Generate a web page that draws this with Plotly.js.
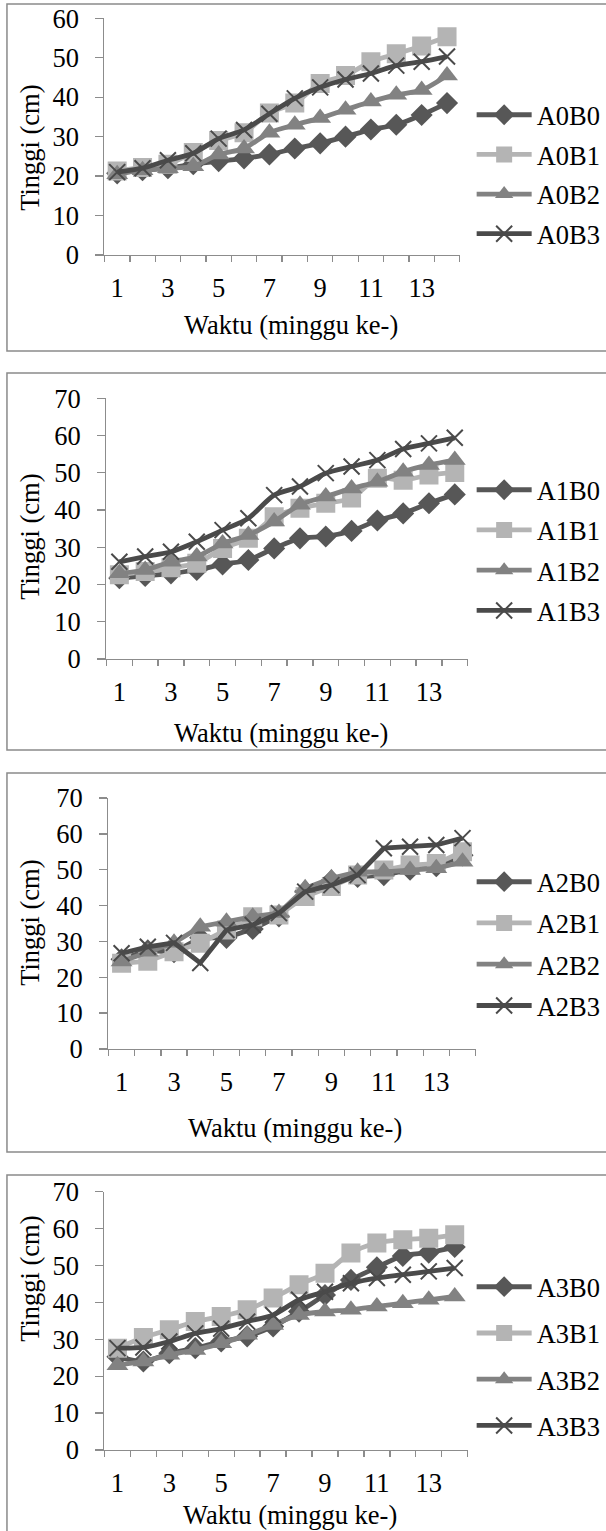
<!DOCTYPE html>
<html>
<head>
<meta charset="utf-8">
<script src="https://cdn.plot.ly/plotly-3.0.1.min.js"></script>
<style>
html,body{margin:0;padding:0;background:#fff;}
#chart{width:606px;height:1531px;}
</style>
</head>
<body>
<div id="chart"></div>
<script>
// ---- data ----
const weeks = [1, 2, 3, 4, 5, 6, 7, 8, 9, 10, 11, 12, 13, 14];
const weekTickVals = [1, 3, 5, 7, 9, 11, 13];
const weekTickText = ["1", "3", "5", "7", "9", "11", "13"];
const yTitle = "Tinggi (cm)";
const xTitle = "Waktu (minggu ke-)";

const A0B0 = [20.7, 21.5, 22, 23, 23.8, 24.5, 25.5, 27, 28.3, 30, 31.8, 33, 35.5, 38.5];
const A0B1 = [21.3, 22.2, 23, 26, 29, 31, 36, 38.5, 43.5, 45.5, 49, 51, 53, 55.3];
const A0B2 = [20.5, 21.5, 22, 22.5, 25.5, 27, 31, 33, 34.7, 36.8, 38.9, 40.6, 41.8, 45.5];
const A0B3 = [21, 22, 24, 25.8, 29.5, 31.7, 35.8, 39.7, 42.5, 44.5, 46, 48, 49, 50.3];

const A1B0 = [21.7, 22.3, 23, 23.9, 25.4, 26.6, 29.7, 32.4, 32.9, 34.4, 37.2, 39.1, 41.8, 44.2];
const A1B1 = [22.6, 23.5, 24.5, 25.7, 29.7, 32.4, 38.2, 40.5, 41.8, 43.2, 48.5, 48, 49.4, 50.1];
const A1B2 = [23, 23.9, 26.1, 27.5, 31, 33.3, 36.9, 41.4, 43.6, 45.8, 47.6, 50.3, 52.1, 53.4];
const A1B3 = [26.1, 27.5, 28.8, 31.5, 34.6, 37.8, 44, 46.3, 49.9, 51.7, 53.4, 56.4, 57.9, 59.4];

const A2B0 = [25, 27.5, 27, 31, 31, 33.5, 37, 44, 47, 48, 48.5, 50, 51, 54];
const A2B1 = [23.9, 24.5, 27.1, 29.5, 33.2, 36.9, 37.4, 42.5, 45.3, 48.5, 49.9, 51.3, 51.7, 55];
const A2B2 = [24.4, 27.1, 29.6, 34.1, 35.5, 36.9, 37.9, 44.8, 47.6, 49.4, 49.4, 49.9, 50.4, 52.2];
const A2B3 = [26.7, 28.5, 29.6, 24, 33.2, 34.6, 37.9, 43.9, 45.7, 48.5, 56, 56.4, 56.9, 58.8];

const A3B0 = [25.3, 24, 26.2, 27.6, 29.4, 30.8, 33.5, 37.5, 42, 46.1, 49.5, 52.6, 53.5, 55];
const A3B1 = [27.6, 30.5, 32.6, 34.8, 36.2, 38, 41.2, 44.8, 47.9, 53.4, 56.1, 57, 57.4, 58.3];
const A3B2 = [23, 24, 25.8, 27.1, 28.9, 31.2, 33.9, 36.6, 37.5, 38, 38.9, 39.8, 40.7, 41.6];
const A3B3 = [27.6, 27.8, 29.4, 31.6, 32.9, 34.8, 36.6, 40.7, 42.9, 45.2, 46.6, 47.5, 48.4, 49.3];

const panelNames = [
  ["A0B0", "A0B1", "A0B2", "A0B3"],
  ["A1B0", "A1B1", "A1B2", "A1B3"],
  ["A2B0", "A2B1", "A2B2", "A2B3"],
  ["A3B0", "A3B1", "A3B2", "A3B3"]
];
const panelValues = [
  [A0B0, A0B1, A0B2, A0B3],
  [A1B0, A1B1, A1B2, A1B3],
  [A2B0, A2B1, A2B2, A2B3],
  [A3B0, A3B1, A3B2, A3B3]
];
const yMax = [60, 70, 70, 70];

// ---- layout geometry (pixels) ----
const W = 606, H = 1531;
const fx = p => p / W;
const fy = p => 1 - p / H;

const panels = [
  {x0: 105, x1: 462, yTop: 18.3, yBot: 255, frame: [7, 4, 351], titleX: 292, titleY: 325, ytX: 30, ytY: 148, legTop: 113, gap: 40.7, shape: "spline"},
  {x0: 107, x1: 470, yTop: 398.3, yBot: 659, frame: [7, 373, 750], titleX: 282, titleY: 733, ytX: 30, ytY: 537, legTop: 488, gap: 41.3, shape: "spline"},
  {x0: 109, x1: 478, yTop: 798, yBot: 1049, frame: [7, 773, 1152], titleX: 296, titleY: 1128, ytX: 30, ytY: 923, legTop: 880, gap: 42.3, shape: "linear"},
  {x0: 105, x1: 470, yTop: 1191.7, yBot: 1450, frame: [7, 1175, 1560], titleX: 291, titleY: 1515, ytX: 30, ytY: 1279, legTop: 1285, gap: 47.3, shape: "spline"}
];

const styles = [
  {color: "#575757", symbol: "diamond", size: 17, lineW: 0},
  {color: "#b4b4b4", symbol: "square", size: 19, lineW: 0},
  {color: "#828282", symbol: "triangle-up", size: 19, lineW: 0},
  {color: "#4a4a4a", symbol: "x-thin-open", size: 16, lineW: 2}
];

const FONT = "Liberation Serif";
const AX = "#8c8c8c";
const FS = 26.5;
const ROW = 38.5;

const traces = [];
const layout = {
  width: W, height: H,
  margin: {l: 0, r: 0, t: 0, b: 0},
  paper_bgcolor: "#fff", plot_bgcolor: "rgba(0,0,0,0)",
  font: {family: FONT, size: FS, color: "#000"},
  showlegend: true,
  shapes: [], annotations: []
};

panels.forEach((p, i) => {
  const n = i === 0 ? "" : String(i + 1);
  const xa = "x" + n, ya = "y" + n, lg = "legend" + n;
  panelValues[i].forEach((vals, k) => {
    const s = styles[k];
    traces.push({
      type: "scatter", mode: "lines+markers",
      x: weeks, y: vals, name: panelNames[i][k],
      xaxis: xa, yaxis: ya, legend: lg, legendgroup: panelNames[i][k],
      line: {color: s.color, width: 4.8, shape: p.shape, smoothing: 0.8},
      marker: {symbol: s.symbol, size: s.size, color: s.color,
               line: {color: s.color, width: s.lineW}},
      hoverinfo: "x+y+name"
    });
  });
  layout["xaxis" + n] = {
    domain: [fx(p.x0), fx(p.x1)], anchor: ya,
    range: [0.5, 14.5], tickmode: "array", tickvals: weekTickVals, ticktext: weekTickText,
    ticks: "", showline: true, linecolor: AX, linewidth: 1.3,
    showgrid: false, zeroline: false, fixedrange: true,
    tickfont: {family: FONT, size: FS, color: "#000"},
    ticklabelstandoff: 9,
    minor: {tick0: 0.5, dtick: 1, ticks: "outside", ticklen: 6, tickcolor: AX, tickwidth: 1.3, showgrid: false}
  };
  layout["yaxis" + n] = {
    domain: [fy(p.yBot), fy(p.yTop)], anchor: xa,
    range: [0, yMax[i]], dtick: 10, tick0: 0,
    ticks: "outside", ticklen: 8, tickcolor: AX, tickwidth: 1.3,
    showline: true, linecolor: AX, linewidth: 1.3,
    showgrid: false, zeroline: false, fixedrange: true,
    tickfont: {family: FONT, size: FS, color: "#000"},
    ticklabelstandoff: 11
  };
  layout[lg] = {
    x: fx(474), xanchor: "left", y: fy(p.legTop - 22), yanchor: "top",
    bgcolor: "rgba(0,0,0,0)", borderwidth: 0,
    font: {family: FONT, size: FS, color: "#000"},
    itemwidth: 55, tracegroupgap: Math.max(0, p.gap - ROW), traceorder: "grouped",
    itemclick: false, itemdoubleclick: false
  };
  const f = p.frame;
  // frame: top, left and bottom edges (the right edge runs off the page)
  const L = fx(f[0]), T = fy(f[1]), B = fy(f[2]), R = fx(640);
  layout.shapes.push({type: "path", xref: "paper", yref: "paper",
    path: `M${R},${T} L${L},${T} L${L},${B} L${R},${B}`,
    line: {color: "#8a8a8a", width: 1.5}, layer: "below"});
  layout.annotations.push({xref: "paper", yref: "paper", x: fx(p.titleX), y: fy(p.titleY),
    text: xTitle, showarrow: false, xanchor: "center", yanchor: "middle",
    font: {family: FONT, size: FS, color: "#000"}});
  layout.annotations.push({xref: "paper", yref: "paper", x: fx(p.ytX), y: fy(p.ytY),
    text: yTitle, showarrow: false, xanchor: "center", yanchor: "middle", textangle: -90,
    font: {family: FONT, size: FS, color: "#000"}});
});

Plotly.newPlot("chart", traces, layout, {staticPlot: true, displayModeBar: false});
</script>
</body>
</html>
